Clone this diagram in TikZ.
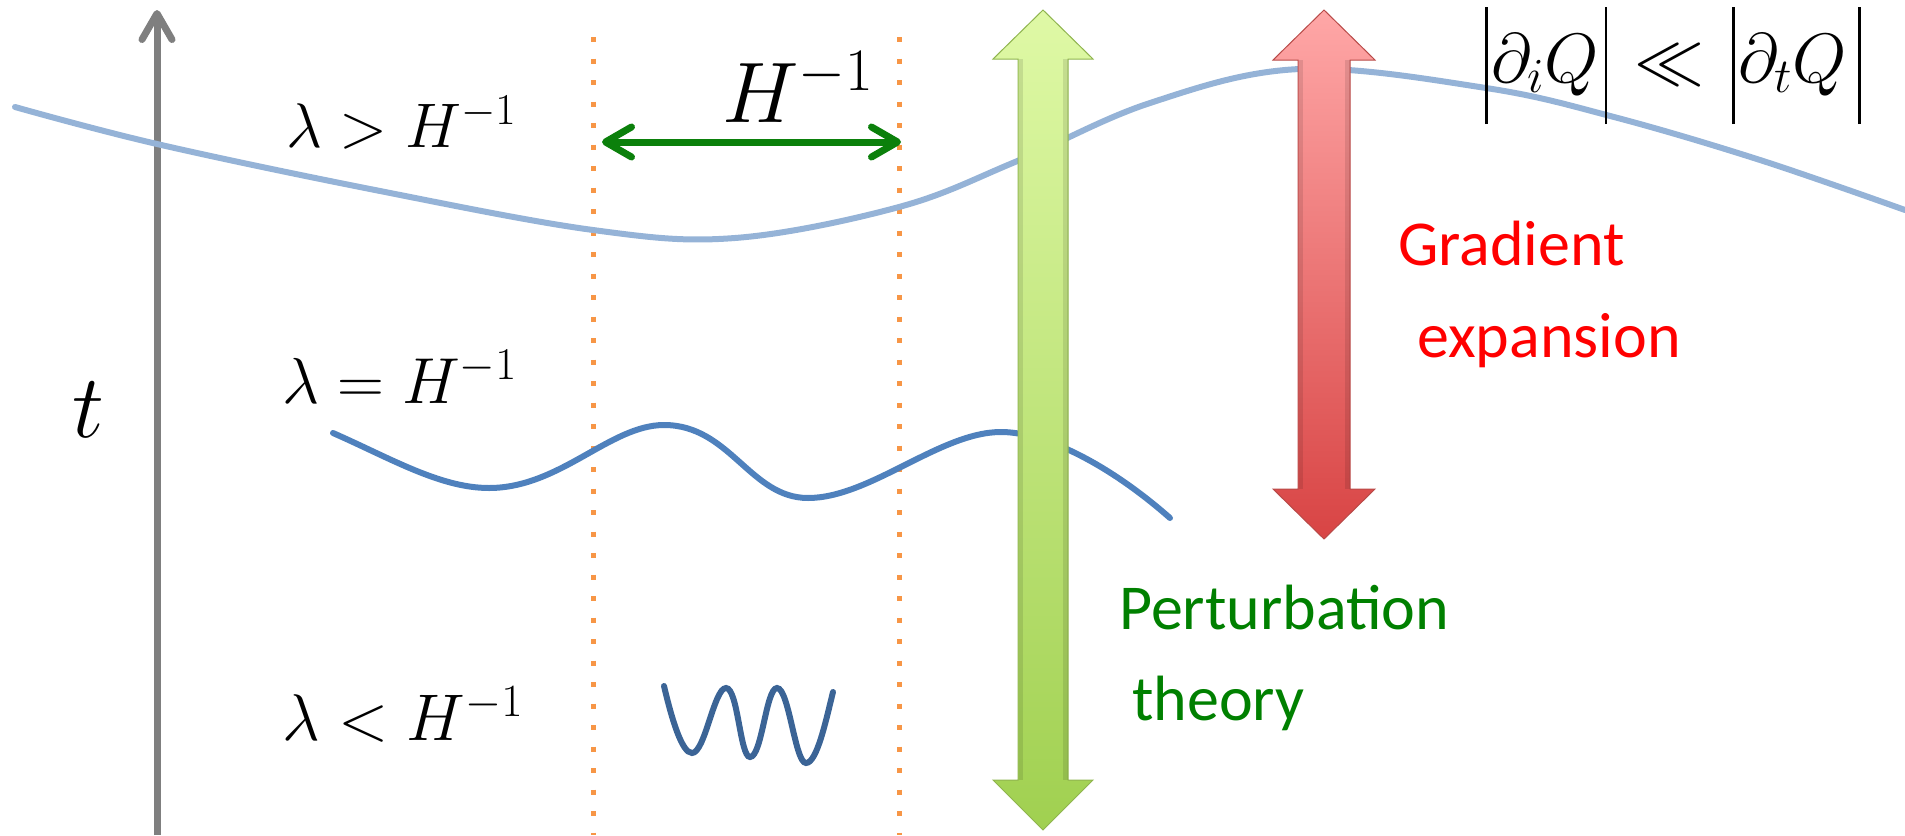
\RequirePackage{fix-cm}
\documentclass[tikz,border=0pt]{standalone}
\usepackage{amsmath}
\usepackage{fontspec}
\newfontfamily\calibri{Carlito}
\usetikzlibrary{arrows.meta}
\definecolor{axisgray}{HTML}{7F7F7F}
\definecolor{dotorange}{HTML}{F79646}
\definecolor{hgreen}{HTML}{0B800B}
\definecolor{curveA}{HTML}{95B3D7}
\definecolor{curveB}{HTML}{4F81BD}
\definecolor{curveC}{HTML}{3B6496}
\definecolor{ptgreen}{HTML}{008000}
\definecolor{gered}{HTML}{FF0000}
\definecolor{gtop}{HTML}{DFF9A6}
\definecolor{gbot}{HTML}{A0D050}
\definecolor{gedge}{HTML}{8FB44E}
\definecolor{rtop}{HTML}{FFA7A7}
\definecolor{rbot}{HTML}{D84444}
\definecolor{redge}{HTML}{B84A48}
\newcommand{\tallbar}{\mathord{\vrule width 2.6pt height 75pt depth 42pt}}
\begin{document}
\begin{tikzpicture}[x=1pt,y=-1pt,
  mathlabel/.style={anchor=base west, inner sep=0pt},
  wordlabel/.style={anchor=base west, inner sep=0pt, font=\calibri\fontsize{64}{72}\selectfont},
  dotline/.style={dotorange, line width=5pt, dash pattern=on 5pt off 16.5pt},
  barb/.tip={Straight Barb[length=26pt,width=30pt,round]},
  curve/.style={line width=6pt, line cap=round},
  bevel/.style={black, fill opacity=0.10}
]
\useasboundingbox (0,0) rectangle (1905,835);
% orange dotted guides
\coordinate (o1t) at (593,37); \coordinate (o1b) at (593,835);
\coordinate (o2t) at (899,37); \coordinate (o2b) at (899,835);
\draw[dotline] (o1t) -- (o1b);
\draw[dotline] (o2t) -- (o2b);
% time axis
\coordinate (ax0) at (157,835); \coordinate (ax1) at (157,10);
\draw[axisgray, line width=7pt, -barb] (ax0) -- (ax1);
% curves
\draw[curveA, curve] plot[smooth, tension=0.6] coordinates {(15,107) (157,144) (375,190) (593,230) (735,238) (899,207) (1015,162) (1150,103) (1300,69) (1486,88) (1614,117) (1760,160) (1905,210)};
\draw[curveB, curve] (333,433) .. controls (390,458) and (440,488) .. (489,488)
  .. controls (560,488) and (610,425) .. (664,425)
  .. controls (730,425) and (750,498) .. (808,498)
  .. controls (870,498) and (940,432) .. (1001,432)
  .. controls (1045,432) and (1110,465) .. (1170,518);
\draw[curveC, curve] (664,686) .. controls (672,720) and (682,753) .. (692,753)
  .. controls (705,753) and (714,688) .. (726,688)
  .. controls (738,688) and (740,757) .. (750,757)
  .. controls (762,757) and (766,688) .. (777,688)
  .. controls (789,688) and (795,763) .. (806,763)
  .. controls (817,763) and (826,720) .. (833,692);
% H^{-1} arrow
\coordinate (hl) at (602,142); \coordinate (hr) at (901,142);
\draw[hgreen, line width=7pt, barb-barb] (hl) -- (hr);
% block arrows
\path[top color=gtop, bottom color=gbot, draw=gedge, line width=1pt]
  (1043,10) -- (1093,59) -- (1068,59) -- (1068,780) -- (1093,780) -- (1043,830)
  -- (993,780) -- (1018,780) -- (1018,59) -- (993,59) -- cycle;
\fill[bevel] (1018.5,59) rectangle (1023,780);
\fill[bevel] (1063,59) rectangle (1067.5,780);
\path[top color=rtop, bottom color=rbot, draw=redge, line width=1pt]
  (1324,10) -- (1375,60) -- (1350,60) -- (1350,489) -- (1375,489) -- (1324,539)
  -- (1273,489) -- (1298,489) -- (1298,60) -- (1273,60) -- cycle;
\fill[bevel] (1298.5,60) rectangle (1303,489);
\fill[bevel] (1345,60) rectangle (1349.5,489);
% labels
\node[anchor=base, inner sep=0pt, font=\fontsize{90}{100}\selectfont] (tlab) at (88,437) {$t$};
\node[mathlabel, font=\fontsize{63}{70}\selectfont] (lgt) at (286,147) {$\lambda > H^{-1}$};
\node[mathlabel, font=\fontsize{65}{72}\selectfont] (leq) at (282,403) {$\lambda = H^{-1}$};
\node[mathlabel, font=\fontsize{66}{72}\selectfont] (llt) at (282,740) {$\lambda < H^{-1}$};
\node[anchor=base west, inner sep=0pt, font=\fontsize{86}{96}\selectfont] (hlab) at (722,122) {$H^{-1}$};
\node[anchor=base west, inner sep=0pt, font=\fontsize{70}{78}\selectfont] (cond) at (1485,82)
  {$\tallbar\mkern1mu\partial_i Q\mkern1.5mu\tallbar\mkern2mu\ll\mkern2mu\tallbar\mkern1mu\partial_t Q\mkern3mu\tallbar$};
\node[wordlabel, text=ptgreen] (pert) at (1119,629) {Perturbation};
\node[wordlabel, text=ptgreen] (theo) at (1132,720) {theory};
\node[wordlabel, text=gered] (grad) at (1398,265) {Gradient};
\node[wordlabel, text=gered] (expa) at (1417,357) {expansion};
\end{tikzpicture}
\end{document}
